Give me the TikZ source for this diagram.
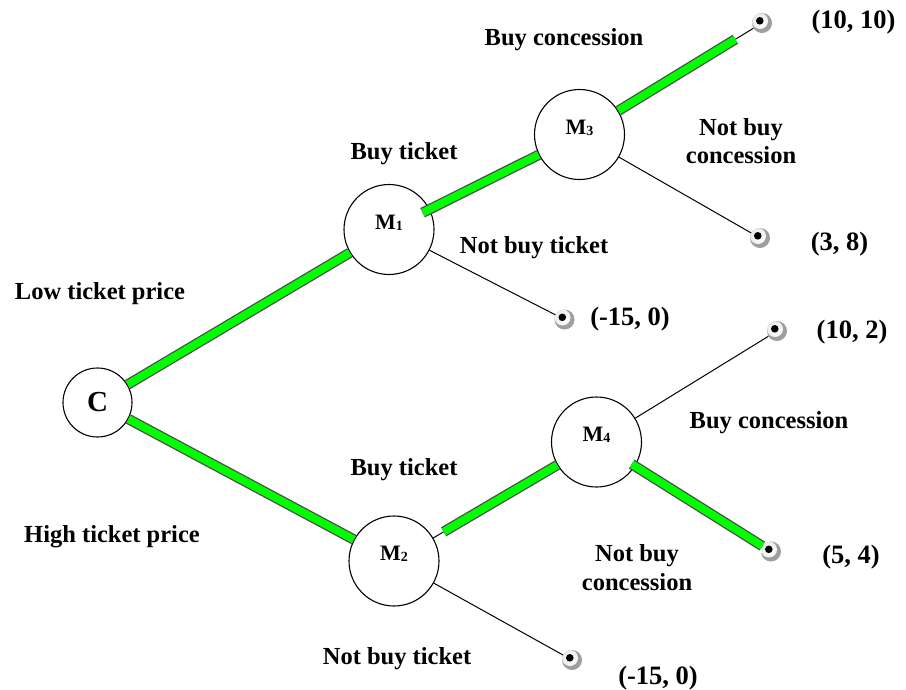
\documentclass[tikz,border=0pt]{standalone}
\usepackage{fontspec}
\setmainfont{Liberation Serif}
\begin{document}
\begin{tikzpicture}[x=1pt,y=-1pt,
 dnode/.style={circle,draw,line width=1.1pt,minimum size=90pt,inner sep=0pt},
 term/.style={circle,inner sep=0pt,minimum size=20pt,fill=black!38,
   path picture={\shade[inner color=white,outer color=black!8] ([shift={(-2pt,2pt)}]path picture bounding box.center) circle (8pt);
                 \fill[black] ([shift={(-2.2pt,2.2pt)}]path picture bounding box.center) circle (3.8pt);}},
 conn/.style={line width=1pt},
 gbar/.style={line width=1.3pt, draw=black!70, double=green, double distance=7.8pt, line cap=butt},
 lbl/.style={font=\fontsize{24.5}{28}\selectfont\bfseries, anchor=base, inner sep=0pt},
 pay/.style={font=\fontsize{26.5}{30}\selectfont\bfseries, anchor=base, inner sep=0pt},
 mlab/.style={font=\fontsize{22}{22}\selectfont\bfseries}
]
\useasboundingbox (0,0) rectangle (906,689);
% decision nodes
\node[dnode,minimum size=69pt,font=\fontsize{29}{29}\selectfont\bfseries] (C) at (97.5,402.5) {C};
\newcommand{\mlabel}[1]{M\raisebox{-1pt}{\fontsize{14}{14}\selectfont #1}}
\node[dnode,label={[mlab,yshift=7pt]center:\mlabel{1}}] (M1) at (389,229.5) {};
\node[dnode,label={[mlab,yshift=7pt]center:\mlabel{3}}] (M3) at (579.5,134.5) {};
\node[dnode,label={[mlab,yshift=7pt]center:\mlabel{2}}] (M2) at (394,561) {};
\node[dnode,label={[mlab,yshift=7pt]center:\mlabel{4}}] (M4) at (596.5,442) {};
% terminals
\node[term] (T1) at (762,23) {};
\node[term] (T2) at (760,238) {};
\node[term] (T3) at (564.5,319.5) {};
\node[term] (T4) at (777,331) {};
\node[term] (T5) at (771,551.5) {};
\node[term] (T6) at (572,660) {};
% thin connectors
\draw[conn] (C) -- (M1);
\draw[conn] (C) -- (M2);
\draw[conn] (M1) -- (M3);
\draw[conn] (M1) -- (T3);
\draw[conn] (M3) -- (T1);
\draw[conn] (M3) -- (T2);
\draw[conn] (M2) -- (M4);
\draw[conn] (M2) -- (T6);
\draw[conn] (M4) -- (T4);
\draw[conn] (M4) -- (T5);
% green bars
\draw[gbar] (C) -- (M1);
\draw[gbar] (C) -- (M2);
\draw[gbar,shorten <=-8pt] (M1) -- (M3);
\draw[gbar,shorten >=21pt] (M3) -- (T1);
\draw[gbar,shorten <=12pt] (M2) -- (M4);
\draw[gbar,shorten <=-4pt] (M4) -- (T5);
% labels
\node[lbl] (bc1) at (564,45) {Buy concession};
\node[pay] (p1) at (853.5,28) {(10, 10)};
\node[lbl] (nbc1a) at (741,135) {Not buy};
\node[lbl] (nbc1b) at (741,163) {concession};
\node[lbl] (bt1) at (404,159) {Buy ticket};
\node[lbl] (nbt1) at (534,253) {Not buy ticket};
\node[pay] (p2) at (839.5,250) {(3, 8)};
\node[lbl] (ltp) at (100,299) {Low ticket price};
\node[pay] (p3) at (630,325) {(-15, 0)};
\node[pay] (p4) at (852,338) {(10, 2)};
\node[lbl] (bc2) at (769,428) {Buy concession};
\node[lbl] (bt2) at (404,475) {Buy ticket};
\node[lbl] (htp) at (112,542) {High ticket price};
\node[lbl] (nbc2a) at (637,561) {Not buy};
\node[lbl] (nbc2b) at (637,590) {concession};
\node[pay] (p5) at (851,563) {(5, 4)};
\node[lbl] (nbt2) at (397,664) {Not buy ticket};
\node[pay] (p6) at (658,684) {(-15, 0)};
\end{tikzpicture}
\end{document}
